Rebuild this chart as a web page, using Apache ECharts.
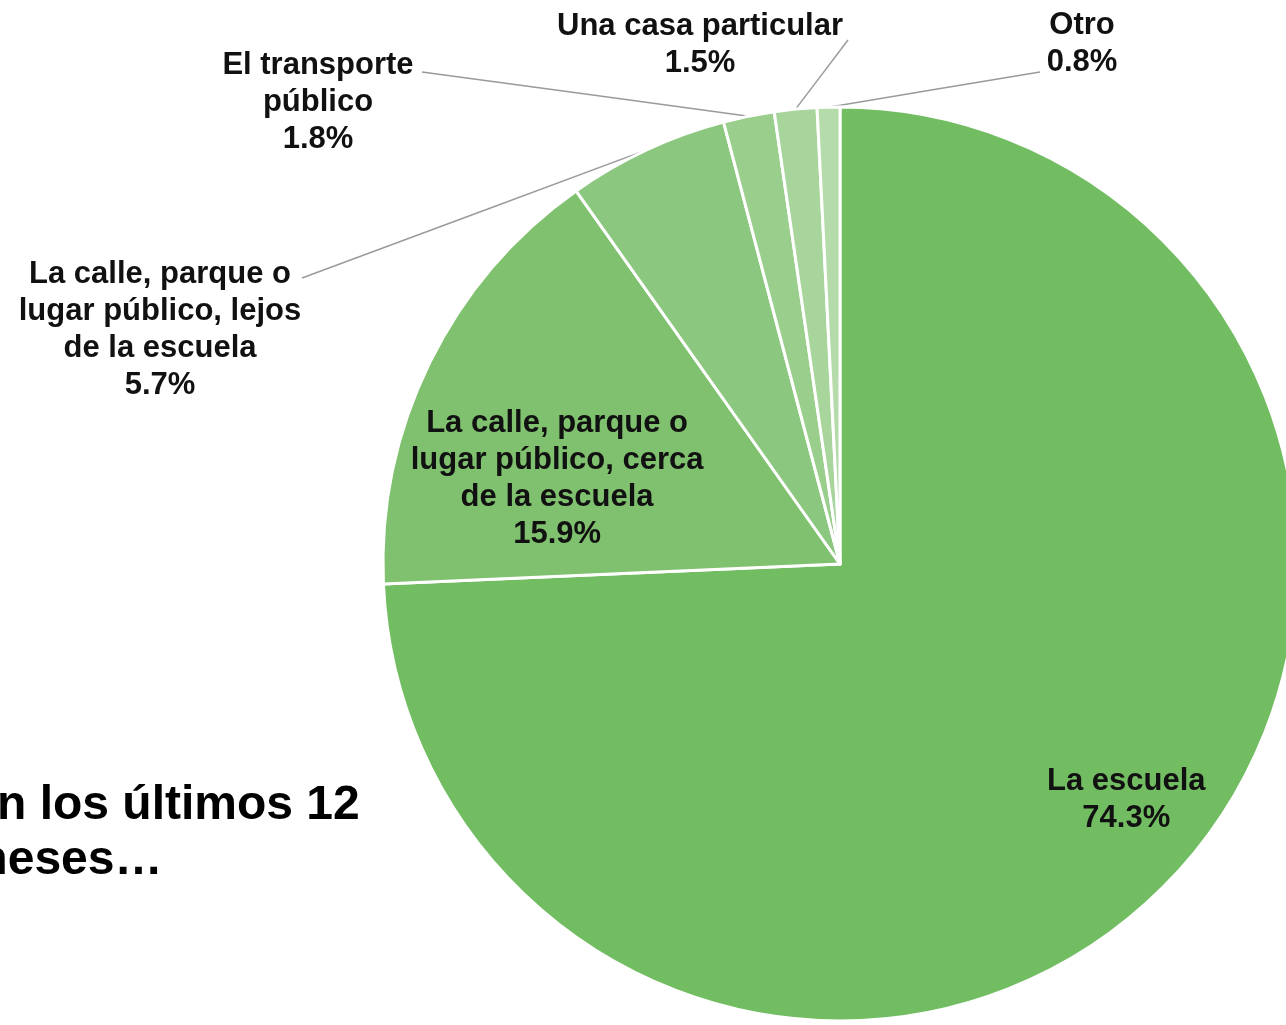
<!DOCTYPE html>
<html>
<head>
<meta charset="utf-8">
<script src="https://cdn.jsdelivr.net/npm/echarts@6/dist/echarts.min.js"></script>
<style>
html,body{margin:0;padding:0;background:#fff;}
#chart{width:1286px;height:1025px;}
</style>
</head>
<body>
<div id="chart"></div>
<script>
// Data
var categories = [
  'La escuela',
  'La calle, parque o\nlugar público, cerca\nde la escuela',
  'La calle, parque o\nlugar público, lejos\nde la escuela',
  'El transporte\npúblico',
  'Una casa particular',
  'Otro'
];
var values = [74.3, 15.9, 5.7, 1.8, 1.5, 0.8];
var titleText = 'En los últimos 12\nmeses…';

// Styles
var colors = ['#72bc62', '#7fc16e', '#8cc77f', '#99ce8c', '#a7d59b', '#b5dbaa'];
// label centre positions for outside labels and line end points (px)
var labelPlace = {
  2: {x: 160, y: 330, end: [302, 278]},
  3: {x: 318, y: 102, end: [422, 72]},
  4: {x: 700, y: 45, end: [848, 40]},
  5: {x: 1082, y: 44, end: [1040, 72]}
};
var insideOffset = {0: [119, 76], 1: [-75, 17]};

var chart = echarts.init(document.getElementById('chart'), null, {renderer: 'canvas'});
var data = categories.map(function (c, i) {
  var item = {name: c, value: values[i], itemStyle: {color: colors[i]}};
  if (i < 2) {
    item.label = {position: 'inside', offset: insideOffset[i]};
    item.labelLine = {show: false};
  } else {
    item.label = {position: 'outside'};
    item.labelLine = {show: true, length: 20, length2: 10};
  }
  return item;
});

chart.setOption({
  animation: false,
  backgroundColor: '#ffffff',
  graphic: [{
    type: 'text',
    left: -35,
    top: 778,
    style: {
      text: titleText,
      font: 'bold 48px "Liberation Sans", Arial, sans-serif',
      lineHeight: 55,
      fill: '#000000'
    }
  }],
  series: [{
    type: 'pie',
    center: [840, 564],
    radius: 457,
    startAngle: 90,
    clockwise: true,
    avoidLabelOverlap: false,
    itemStyle: {borderColor: '#ffffff', borderWidth: 3},
    label: {
      show: true,
      formatter: function (p) { return p.name + '\n' + p.value.toFixed(1) + '%'; },
      fontFamily: '"Liberation Sans", Arial, sans-serif',
      fontWeight: 'bold',
      fontSize: 31,
      lineHeight: 37,
      color: '#111111',
      align: 'center'
    },
    labelLine: {lineStyle: {color: '#9a9a9a', width: 1.5}},
    emphasis: {disabled: true},
    labelLayout: function (params) {
      var lp = labelPlace[params.dataIndex];
      if (!lp) return {};
      var start = params.labelLinePoints ? params.labelLinePoints[0] : lp.end;
      var mid = [(start[0] + lp.end[0]) / 2, (start[1] + lp.end[1]) / 2];
      return {
        x: lp.x, y: lp.y, align: 'center', verticalAlign: 'middle',
        labelLinePoints: [start, mid, lp.end]
      };
    },
    data: data
  }]
});
</script>
</body>
</html>
